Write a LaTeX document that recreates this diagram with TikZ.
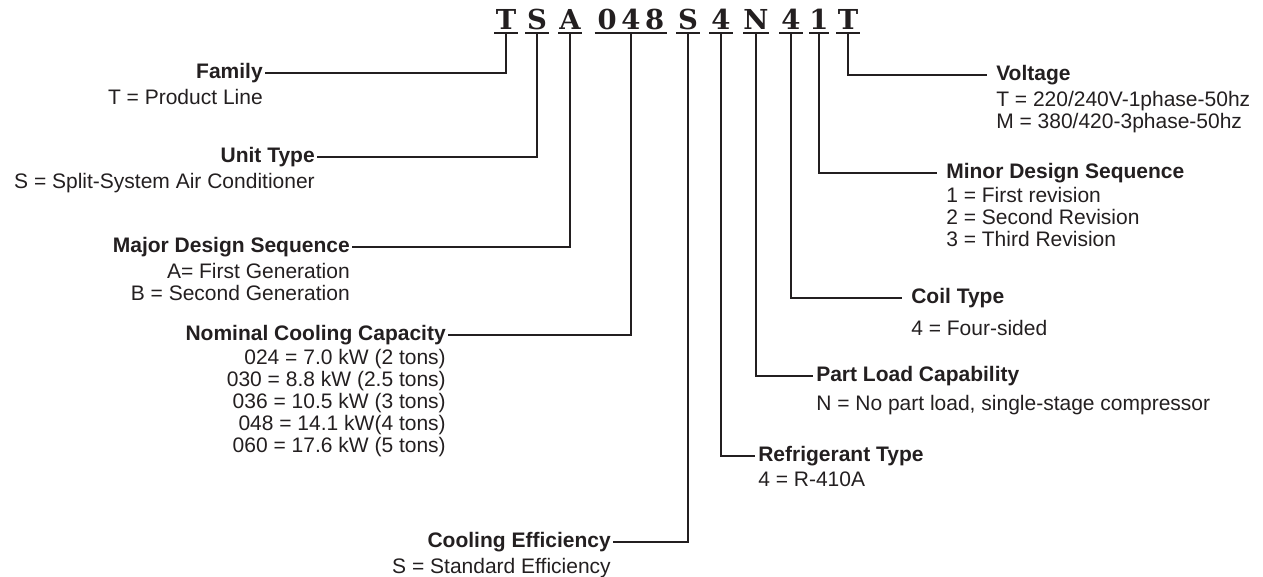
\documentclass[tikz,border=0pt]{standalone}
\usepackage{fontspec}
\setmainfont{Liberation Sans}
\newfontfamily\codefont{DejaVu Serif}
\definecolor{ink}{RGB}{35,31,32}
\begin{document}
\begin{tikzpicture}[x=0.75pt,y=-0.75pt,
  every node/.style={text=ink},
  conn/.style={draw=ink, line width=1.7pt, line join=miter},
  uline/.style={draw=ink, line width=1.9pt},
  letr/.style={font=\codefont\bfseries\fontsize{20.6pt}{20.6pt}\selectfont, anchor=south, inner xsep=0pt, inner ysep=2.25pt, text depth=0pt, minimum width=17.25pt},
  ttl/.style={font=\bfseries\fontsize{15.75pt}{16.5pt}\selectfont, text height=11.2pt, text depth=3pt, inner ysep=0pt},
  bdy/.style={font=\fontsize{15.75pt}{16.5pt}\selectfont, inner ysep=0pt},
  lft/.style={inner xsep=1.5pt},
  rgt/.style={inner xsep=6.75pt},
  rgtn/.style={inner xsep=2.25pt},
]
\useasboundingbox (0,0) rectangle (1263,577);

% model code letters
\node[letr] (c1) at (506,33) {T};
\node[letr] (c2) at (537,33) {S};
\node[letr] (c3) at (570,33) {A};
\node[letr, minimum width=54pt] (c4) at (631,33) {0\hspace{3.5pt}4\hspace{3.5pt}8};
\node[letr] (c5) at (688,33) {S};
\node[letr] (c6) at (721,33) {4};
\node[letr] (c7) at (756,33) {N};
\node[letr] (c8) at (791,33) {4};
\node[letr, minimum width=13.5pt] (c9) at (819,33) {1};
\node[letr] (c10) at (848,33) {T};
\foreach \i in {1,...,10} \draw[uline] (c\i.south west) -- (c\i.south east);

% left labels
\node[ttl, lft, anchor=east] (famT) at (265,73) {Family};
\node[bdy, lft, align=right, anchor=north east] (famB) at ([yshift=-4.5pt]famT.south east) {T = Product Line};

\node[ttl, lft, anchor=east] (unitT) at (317,157) {Unit Type};
\node[bdy, lft, align=right, anchor=north east] (unitB) at ([yshift=-4.5pt]unitT.south east) {S = Split-System Air Conditioner};

\node[ttl, lft, anchor=east] (majT) at (352,247) {Major Design Sequence};
\node[bdy, lft, align=right, anchor=north east] (majB) at ([yshift=-4.5pt]majT.south east) {A= First Generation\\B = Second Generation};

\node[ttl, lft, anchor=east] (nomT) at (448,335) {Nominal Cooling Capacity};
\node[bdy, lft, align=right, anchor=north east] (nomB) at ([yshift=-3.5pt]nomT.south east) {024 = 7.0 kW (2 tons)\\030 = 8.8 kW (2.5 tons)\\036 = 10.5 kW (3 tons)\\048 = 14.1 kW(4 tons)\\060 = 17.6 kW (5 tons)};

\node[ttl, lft, anchor=east] (effT) at (613,542) {Cooling Efficiency};
\node[bdy, lft, align=right, anchor=north east] (effB) at ([yshift=-4.5pt]effT.south east) {S = Standard Efficiency};

% right labels
\node[ttl, rgt, anchor=west] (volT) at (987,75) {Voltage};
\node[bdy, rgt, align=left, anchor=north west] (volB) at ([yshift=-4.5pt]volT.south west) {T = 220/240V-1phase-50hz\\M = 380/420-3phase-50hz};

\node[ttl, rgt, anchor=west] (minT) at (937,173) {Minor Design Sequence};
\node[bdy, rgt, align=left, anchor=north west] (minB) at ([yshift=-3.5pt]minT.south west) {1 = First revision\\2 = Second Revision\\3 = Third Revision};

\node[ttl, rgt, anchor=west] (coilT) at (902,298) {Coil Type};
\node[bdy, rgt, align=left, anchor=north west] (coilB) at ([yshift=-9pt]coilT.south west) {4 = Four-sided};

\node[ttl, rgtn, anchor=west] (partT) at (813,376) {Part Load Capability};
\node[bdy, rgtn, align=left, anchor=north west] (partB) at ([yshift=-6.75pt]partT.south west) {N = No part load, single-stage compressor};

\node[ttl, rgtn, anchor=west] (refT) at (755,456) {Refrigerant Type};
\node[bdy, rgtn, align=left, anchor=north west] (refB) at ([yshift=-4.5pt]refT.south west) {4 = R-410A};

% connectors
\draw[conn] (c1.south) |- (famT.east);
\draw[conn] (c2.south) |- (unitT.east);
\draw[conn] (c3.south) |- (majT.east);
\draw[conn] (c4.south) |- (nomT.east);
\draw[conn] (c5.south) |- (effT.east);
\draw[conn] (c6.south) |- (refT.west);
\draw[conn] (c7.south) |- (partT.west);
\draw[conn] (c8.south) |- (coilT.west);
\draw[conn] (c9.south) |- (minT.west);
\draw[conn] (c10.south) |- (volT.west);
\end{tikzpicture}
\end{document}
